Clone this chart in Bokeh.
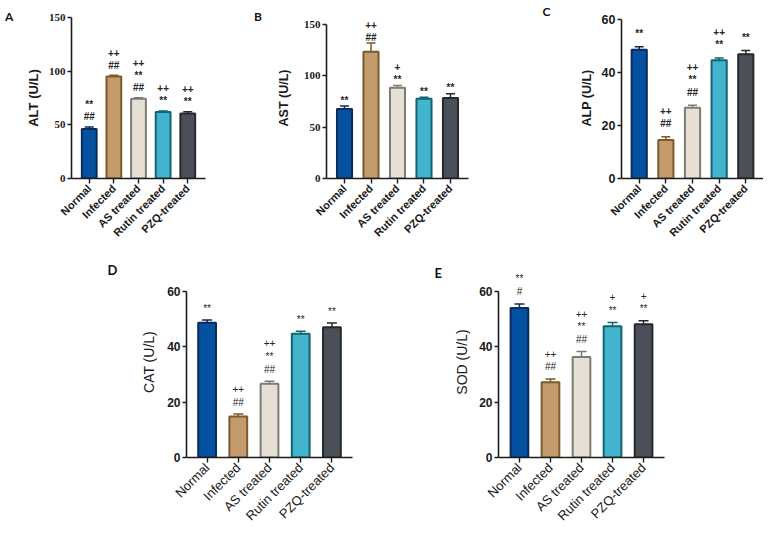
import math
from bokeh.plotting import figure
from bokeh.models import (FactorRange, Range1d, FixedTicker, Whisker, TeeHead,
                          ColumnDataSource)
from bokeh.layouts import column, row
from bokeh.embed import file_html
from bokeh.resources import INLINE
from bokeh.core.properties import value

# ---------------- data ----------------
groups = ["Normal", "Infected", "AS treated", "Rutin treated", "PZQ-treated"]

alt_mean = [46.2, 95.0, 74.4, 61.9, 60.6]
alt_err = [1.8, 1.2, 0.8, 1.0, 1.6]
alt_marks = [["**", "##"], ["++", "##"], ["++", "**", "##"], ["++", "**"], ["++", "**"]]

ast_mean = [67.6, 123.4, 88.5, 77.6, 78.5]
ast_err = [3.0, 8.5, 2.0, 1.6, 4.0]
ast_marks = [["**"], ["++", "##"], ["+", "**"], ["**"], ["**"]]

alp_mean = [48.7, 14.6, 26.8, 44.7, 47.0]
alp_err = [1.1, 1.2, 0.9, 0.9, 1.4]
alp_marks = [["**"], ["++", "##"], ["++", "**", "##"], ["++", "**"], ["**"]]

cat_mean = [48.7, 14.8, 26.7, 44.7, 47.1]
cat_err = [1.0, 0.9, 0.9, 0.9, 1.5]
cat_marks = [["**"], ["++", "##"], ["++", "**", "##"], ["**"], ["**"]]

sod_mean = [54.0, 27.2, 36.3, 47.4, 48.2]
sod_err = [1.5, 1.2, 2.0, 1.4, 1.2]
sod_marks = [["**", "#"], ["++", "##"], ["++", "**", "##"], ["+", "**"], ["+", "**"]]

ticks_150 = [0, 50, 100, 150]
ticks_60 = [0, 20, 40, 60]

fill_colors = ["#0451a1", "#c49b6c", "#e6e0d4", "#42b4cd", "#4b5058"]
line_colors = ["#0c2b5a", "#7b5a2b", "#7e7a74", "#12646f", "#25282d"]

AXC = "#1c1c1c"
TXT = "#1a1a1a"


def make_panel(letter, ytitle, means, errs, marks, ticks, ymax, yend, lay, sty):
    p = figure(x_range=FactorRange(factors=groups, range_padding=lay["pad"]),
               y_range=Range1d(0, yend), title=letter,
               width=lay["w"], height=lay["h"],
               min_border_left=lay["l"], min_border_right=lay["r"],
               min_border_top=lay["t"], min_border_bottom=lay["b"],
               output_backend="svg", toolbar_location=None)
    p.outline_line_color = None
    p.xgrid.visible = False
    p.ygrid.visible = False
    p.background_fill_color = "white"
    p.border_fill_color = "white"

    # panel letter
    p.title.align = "left"
    p.title.offset = lay["lx"]
    p.title.standoff = lay["ls"]
    p.title.vertical_align = "bottom"
    p.title.text_font = "Lato"
    p.title.text_font_style = "bold"
    p.title.text_font_size = sty["let_size"]
    p.title.text_color = "#111111"

    src = ColumnDataSource(dict(
        g=groups, m=means, u=[a + b for a, b in zip(means, errs)],
        fill=fill_colors, line=line_colors))
    p.vbar(x="g", top="m", width=lay["bw"], source=src, fill_color="fill",
           line_color="line", line_width=2)
    wh = Whisker(base="g", lower="m", upper="u", source=src, dimension="height",
                 line_color="line", line_width=1.5,
                 upper_head=TeeHead(size=lay["cap"], line_color="line", line_width=1.5),
                 lower_head=None)
    p.add_layout(wh)

    # significance marks
    xs, ys, ts, offs = [], [], [], []
    for g, m, e, ml in zip(groups, means, errs, marks):
        for k, t in enumerate(reversed(ml)):
            xs.append(g)
            ys.append(m + e)
            ts.append(t)
            offs.append(-(sty["gap"] + k * sty["lh"]))
    tsrc = ColumnDataSource(dict(x=xs, y=ys, t=ts, o=offs))
    p.text(x="x", y="y", text="t", y_offset="o", source=tsrc,
           text_align="center", text_baseline="middle",
           text_font=value("Liberation Sans"), text_font_size=sty["ann"],
           text_font_style=sty["ann_style"], text_color="#262626")

    # y axis
    ya = p.yaxis[0]
    ya.ticker = FixedTicker(ticks=ticks)
    ya.bounds = (0, ymax)
    ya.axis_label = ytitle
    ya.axis_label_text_font = sty["yt_font"]
    ya.axis_label_text_font_style = sty["yt_style"]
    ya.axis_label_text_font_size = sty["yt_size"]
    ya.axis_label_text_color = TXT
    ya.axis_label_standoff = lay["ystand"]
    ya.major_label_text_font = sty["tk_font"]
    ya.major_label_text_font_style = "bold"
    ya.major_label_text_font_size = sty["tk_size"]
    ya.major_label_text_color = TXT
    ya.major_label_standoff = 2
    ya.major_tick_in = 0
    ya.major_tick_out = 4
    ya.minor_tick_line_color = None
    ya.axis_line_width = 1.6
    ya.axis_line_color = AXC
    ya.major_tick_line_width = 1.4
    ya.major_tick_line_color = AXC

    # x axis
    xa = p.xaxis[0]
    xa.major_label_orientation = math.pi / 4
    xa.major_label_text_font = "Liberation Sans"
    xa.major_label_text_font_style = sty["cat_style"]
    xa.major_label_text_font_size = sty["cat_size"]
    xa.major_label_text_color = TXT
    xa.major_label_standoff = 3
    xa.major_tick_in = 0
    xa.major_tick_out = 5
    xa.axis_line_width = 1.6
    xa.axis_line_color = AXC
    xa.major_tick_line_width = 1.4
    xa.major_tick_line_color = AXC
    return p


top_sty = dict(gap=10, lh=12.5, ann="10px", ann_style="bold", yt_font="Liberation Sans",
               yt_style="bold", yt_size="13px", tk_font="Liberation Sans Narrow",
               tk_size="11px", cat_style="bold", cat_size="11px", let_size="12px")
b_sty = dict(top_sty, gap=6, yt_size="12.5px")
c_sty = dict(top_sty, gap=13, tk_font="Liberation Sans", tk_size="12.5px", yt_size="12.5px")
bot_sty = dict(gap=12, lh=13, ann="10px", ann_style="normal", yt_font="Liberation Sans",
               yt_style="normal", yt_size="14px", tk_font="Liberation Sans", tk_size="12px",
               cat_style="normal", cat_size="13px", let_size="13px")

TOP_T, TOP_B, TOP_H = 17, 72, 250
BOT_T, BOT_B, BOT_H = 16, 79, 286

pA = make_panel("A", "ALT (U/L)", alt_mean, alt_err, alt_marks, ticks_150, 150, 150,
                dict(w=250, h=TOP_H, l=71, r=45, t=TOP_T, b=TOP_B, pad=0.088, bw=0.6, cap=9,
                     ystand=5, lx=-66.5, ls=-13), top_sty)
pB = make_panel("B", "AST (U/L)", ast_mean, ast_err, ast_marks, ticks_150, 150, 156.8,
                dict(w=263, h=TOP_H, l=76, r=45, t=TOP_T, b=TOP_B, pad=0.072, bw=0.57, cap=9,
                     ystand=10, lx=-72.5, ls=-13), b_sty)
pC = make_panel("C", "ALP (U/L)", alp_mean, alp_err, alp_marks, ticks_60, 60, 60.9,
                dict(w=250, h=TOP_H, l=108, r=0, t=TOP_T, b=TOP_B, pad=0.066, bw=0.57, cap=9,
                     ystand=5, lx=-79, ls=-2), c_sty)
pD = make_panel("D", "CAT (U/L)", cat_mean, cat_err, cat_marks, ticks_60, 60, 69.04,
                dict(w=408, h=BOT_H, l=186, r=56, t=BOT_T, b=BOT_B, pad=0.064, bw=0.57, cap=10,
                     ystand=7, lx=-79, ls=-23), bot_sty)
pE = make_panel("E", "SOD (U/L)", sod_mean, sod_err, sod_marks, ticks_60, 60, 69.04,
                dict(w=355, h=BOT_H, l=90, r=99, t=BOT_T, b=BOT_B, pad=0.07, bw=0.57, cap=10,
                     ystand=6, lx=-64, ls=-29), bot_sty)

layout = column(row(pA, pB, pC), row(pD, pE))
open("out.html", "w").write(file_html(layout, INLINE))
